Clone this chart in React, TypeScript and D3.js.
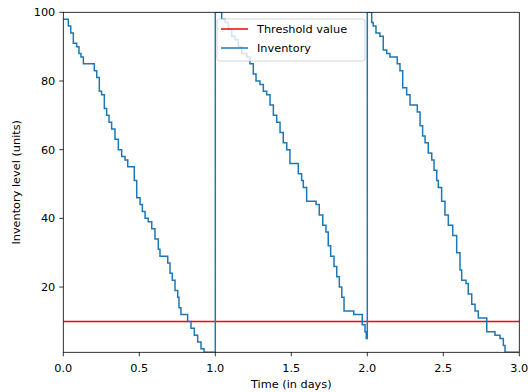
import * as d3 from 'd3';

// Inventory simulation (time in days, level in units)
const cycle1Times = [0, 0.033, 0.049, 0.066, 0.088, 0.103, 0.116, 0.132, 0.204, 0.22, 0.237, 0.252, 0.27, 0.285, 0.301, 0.318, 0.34, 0.362, 0.384, 0.406, 0.424, 0.467, 0.483, 0.505, 0.52, 0.538, 0.559, 0.582, 0.603, 0.625, 0.636, 0.687, 0.702, 0.717, 0.735, 0.753, 0.761, 0.774, 0.818, 0.84, 0.862, 0.884, 0.906, 0.926];
const cycle1Levels = [98, 96, 94, 91, 90, 88, 87, 85, 83, 81, 77, 76, 72, 70, 68, 66, 63, 60, 58, 57, 55, 51, 46, 44, 42, 40, 39, 37, 34, 31, 29, 27, 24, 22, 19, 17, 14, 12, 10, 8, 6, 4, 2, 1];

const cycle2Times = [1.0, 1.042, 1.064, 1.086, 1.108, 1.13, 1.151, 1.174, 1.207, 1.228, 1.25, 1.268, 1.294, 1.316, 1.338, 1.36, 1.382, 1.404, 1.426, 1.447, 1.47, 1.491, 1.546, 1.568, 1.579, 1.601, 1.663, 1.684, 1.707, 1.728, 1.743, 1.759, 1.781, 1.799, 1.816, 1.832, 1.847, 1.911, 1.967, 1.985, 1.993];
const cycle2Levels = [100, 98, 97, 95, 93, 92, 90, 88, 87, 85, 82, 80, 79, 77, 76, 73, 70, 68, 65, 62, 60, 56, 53, 51, 49, 45, 44, 41, 38, 36, 32, 29, 26, 23, 20, 17, 13, 12, 9, 7, 5];

const cycle3Times = [2.0, 2.029, 2.039, 2.057, 2.083, 2.105, 2.128, 2.149, 2.197, 2.215, 2.233, 2.259, 2.281, 2.329, 2.347, 2.364, 2.38, 2.401, 2.424, 2.439, 2.457, 2.467, 2.489, 2.511, 2.533, 2.562, 2.588, 2.61, 2.621, 2.649, 2.664, 2.687, 2.709, 2.73, 2.786, 2.84, 2.873, 2.895, 2.906, 3.0];
const cycle3Levels = [100, 97, 96, 94, 93, 89, 88, 87, 85, 83, 78, 76, 73, 71, 67, 64, 62, 59, 57, 54, 51, 49, 45, 41, 38, 35, 30, 25, 22, 21, 18, 15, 13, 11, 7, 6, 5, 3, 1, 1];

const thresholdValue = 10;
const xTicks = [0, 0.5, 1, 1.5, 2, 2.5, 3];
const yTicks = [20, 40, 60, 80, 100];

const width = 528;
const height = 392;
const margin = { top: 12.3, right: 8.7, bottom: 39.7, left: 63.3 };
const font = '"DejaVu Sans", sans-serif';
const blue = '#1f77b4';

export default function App() {
  const innerW = width - margin.left - margin.right;
  const innerH = height - margin.top - margin.bottom;

  const x = d3.scaleLinear().domain([0, 3]).range([0, innerW]);
  const y = d3.scaleLinear().domain([1, 100]).range([innerH, 0]);

  const points: [number, number][] = [
    ...cycle1Times.map((t, i) => [t, cycle1Levels[i]] as [number, number]),
    ...cycle2Times.map((t, i) => [t, cycle2Levels[i]] as [number, number]),
    ...cycle3Times.map((t, i) => [t, cycle3Levels[i]] as [number, number]),
  ];

  const line = d3
    .line<[number, number]>()
    .x((d) => x(d[0]))
    .y((d) => y(d[1]))
    .curve(d3.curveStepAfter);

  return (
    <svg
      width={width}
      height={height}
      style={{ position: 'absolute', left: 0, top: 0, background: '#fff' }}
      fontFamily={font}
    >
      <defs>
        <clipPath id="plot-clip">
          <rect x={0} y={0} width={innerW} height={innerH} />
        </clipPath>
      </defs>
      <g transform={`translate(${margin.left},${margin.top})`}>
        <g clipPath="url(#plot-clip)">
          <line
            x1={x(0)}
            x2={x(3)}
            y1={y(thresholdValue)}
            y2={y(thresholdValue)}
            stroke="#ff0000"
            strokeWidth={1.5}
          />
          <path d={line(points) || ''} fill="none" stroke={blue} strokeWidth={1.5} />
        </g>

        {/* frame */}
        <rect x={0} y={0} width={innerW} height={innerH} fill="none" stroke="#000" strokeWidth={0.8} />

        {/* x axis */}
        {xTicks.map((t) => (
          <g key={t} transform={`translate(${x(t)},${innerH})`}>
            <line y1={0} y2={4} stroke="#000" strokeWidth={0.8} />
            <text y={19.3} textAnchor="middle" fontSize={11.3} fill="#000">
              {t.toFixed(1)}
            </text>
          </g>
        ))}
        <text x={innerW / 2} y={innerH + 35.5} textAnchor="middle" fontSize={11.3} fill="#000">
          Time (in days)
        </text>

        {/* y axis */}
        {yTicks.map((v) => (
          <g key={v} transform={`translate(0,${y(v)})`}>
            <line x1={-4} x2={0} stroke="#000" strokeWidth={0.8} />
            <text x={-8} y={4} textAnchor="end" fontSize={11.3} fill="#000">
              {v}
            </text>
          </g>
        ))}
        <text
          transform={`translate(${-43},${innerH / 2}) rotate(-90)`}
          textAnchor="middle"
          fontSize={11.3}
          fill="#000"
        >
          Inventory level (units)
        </text>

        {/* legend */}
        <g transform={`translate(${217 - margin.left},${19 - margin.top})`}>
          <rect
            width={148}
            height={42}
            rx={2.5}
            fill="#fff"
            fillOpacity={0.8}
            stroke="#cccccc"
            strokeWidth={0.8}
          />
          <line x1={4} x2={31} y1={10} y2={10} stroke="#ff0000" strokeWidth={1.5} />
          <text x={40} y={14} fontSize={11.3} fill="#000">
            Threshold value
          </text>
          <line x1={4} x2={31} y1={29} y2={29} stroke={blue} strokeWidth={1.5} />
          <text x={40} y={33} fontSize={11.3} fill="#000">
            Inventory
          </text>
        </g>
      </g>
    </svg>
  );
}
